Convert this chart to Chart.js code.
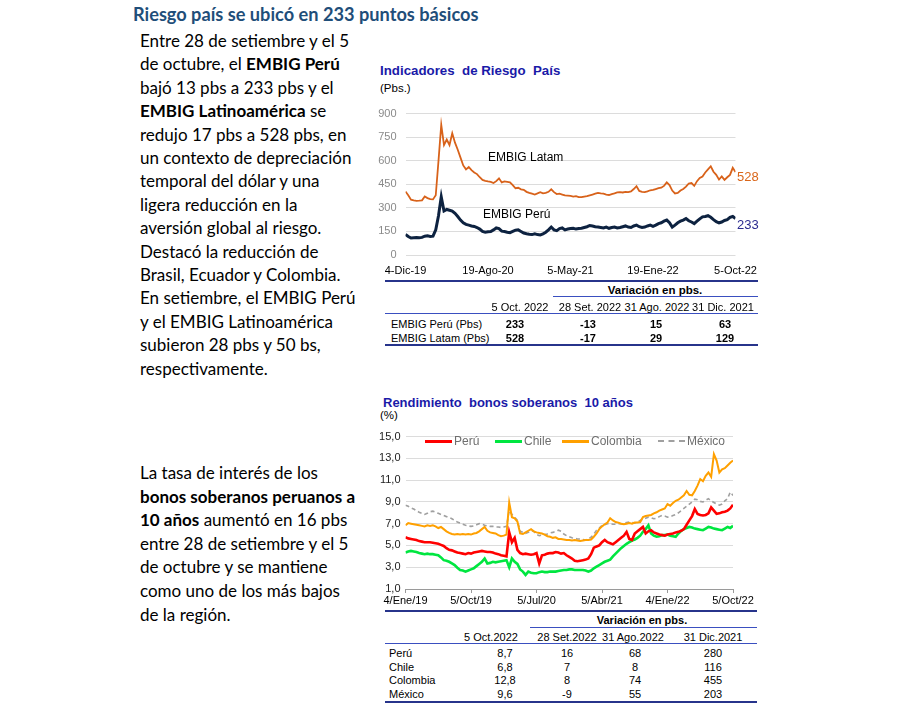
<!DOCTYPE html>
<html>
<head>
<meta charset="utf-8">
<script src="https://cdn.jsdelivr.net/npm/chart.js@4.4.0/dist/chart.umd.min.js"></script>
<style>
  body { margin:0; width:900px; height:712px; background:#fff; position:relative; overflow:hidden;
         font-family:"Liberation Sans", Arial, sans-serif; }
  .abs { position:absolute; white-space:pre; line-height:1.15; }
  #titulo { position:absolute; left:133px; top:3px; font:bold 18.2px Lato; color:#1f4e79; white-space:pre; }
  .parr { position:absolute; left:140px; font:17px Lato; color:#000; white-space:pre; }
  .parr b { font-weight:bold; }
  .linea { position:absolute; }
  canvas { position:absolute; }
</style>
</head>
<body>
<div id="titulo">Riesgo país se ubicó en 233 puntos básicos</div>
<div class="parr" style="top:29px;line-height:23.4px">Entre 28 de setiembre y el 5
de octubre, el <b>EMBIG Perú</b>
bajó 13 pbs a 233 pbs y el
<b>EMBIG Latinoamérica</b> se
redujo 17 pbs a 528 pbs, en
un contexto de depreciación
temporal del dólar y una
ligera reducción en la
aversión global al riesgo.
Destacó la reducción de
Brasil, Ecuador y Colombia.
En setiembre, el EMBIG Perú
y el EMBIG Latinoamérica
subieron 28 pbs y 50 bs,
respectivamente.</div>
<div class="parr" style="top:461px;line-height:23.6px">La tasa de interés de los
<b>bonos soberanos peruanos a</b>
<b>10 años</b> aumentó en 16 pbs
entre 28 de setiembre y el 5
de octubre y se mantiene
como uno de los más bajos
de la región.</div>

<canvas id="riesgoChart" width="396" height="182" style="left:370px;top:98px"></canvas>
<canvas id="bonosChart" width="393" height="184" style="left:370px;top:425px"></canvas>

<script>
// Indicadores de riesgo país (pbs), 4-Dic-19 a 5-Oct-22
const etiquetasRiesgo = ["4-Dic-19", "19-Ago-20", "5-May-21", "19-Ene-22", "5-Oct-22"];
const embigLatam = [
  404,380,352,348,345,346,348,372,362,356, 354,380,600,829,700,735,700,775,715,670,
  620,570,545,560,540,525,515,495,478,472, 468,465,458,470,488,462,468,465,462,445,
  425,428,418,415,402,395,390,385,392,400, 392,395,402,418,400,388,390,385,380,378,
  376,372,375,368,368,372,375,380,385,390, 395,392,390,384,382,388,392,398,400,398,
  402,400,405,420,438,408,402,400,405,412, 415,420,425,428,440,462,445,410,392,395,
  410,420,435,455,458,440,470,490,500,525, 545,565,530,510,480,500,478,495,510,555,
  528
];
const embigPeru = [
  131,118,108,110,112,110,112,120,122,118, 120,160,250,370,280,290,285,280,265,245,
  222,205,195,190,185,182,175,165,150,145, 148,150,160,172,168,152,150,145,142,150,
  158,160,150,140,135,132,130,135,130,128, 135,145,160,178,160,155,168,172,160,165,
  168,170,165,168,170,175,180,188,185,180, 178,175,172,178,170,175,178,172,175,180,
  185,178,175,185,190,180,175,178,185,190, 182,190,200,205,215,222,205,178,190,205,
  215,222,232,218,210,200,215,230,243,245, 250,240,225,212,205,210,220,225,240,245,
  233
];

// Rendimiento bonos soberanos 10 años (%), 4/Ene/19 a 5/Oct/22
const etiquetasBonos = ["4/Ene/19", "5/Oct/19", "5/Jul/20", "5/Abr/21", "4/Ene/22", "5/Oct/22"];
const bonoPeru = [
  5.75,5.65,5.6,5.55,5.5,5.4,5.35,5.3,5.3,5.3, 5.25,5.2,5.15,5.05,4.95,4.75,4.6,4.55,4.45,4.35,
  4.3,4.25,4.2,4.3,4.25,4.35,4.4,4.45,4.5,4.45, 4.4,4.4,4.35,4.25,4.2,4.1,4.05,4.0,6.2,5.3,
  5.7,4.6,4.3,4.2,4.25,4.2,4.15,4.2,4.3,3.35, 4.1,4.15,4.25,4.3,4.3,4.4,4.35,4.25,4.3,4.1,
  3.95,3.8,3.6,3.55,3.6,3.65,3.7,3.8,4.2,4.8, 4.9,5.0,5.3,5.5,5.3,5.2,5.1,5.3,5.5,5.7,
  5.9,6.25,5.6,5.5,6.1,6.3,6.5,6.7,6.1,6.3, 6.4,6.2,6.1,6.0,5.95,5.9,6.0,6.05,6.1,6.2,
  6.25,6.35,6.5,6.9,7.3,7.7,8.35,7.9,7.8,7.75, 7.8,7.95,8.5,8.2,7.9,7.95,8.05,8.1,8.2,8.4,
  8.75
];
const bonoChile = [
  4.35,4.45,4.5,4.45,4.4,4.3,4.25,4.2,4.25,4.2, 4.2,4.15,4.1,3.9,3.65,3.6,3.5,3.35,3.2,2.95,
  2.75,2.7,2.6,2.7,2.8,2.9,3.1,3.3,3.5,3.8, 3.35,3.4,3.5,3.45,3.5,3.55,3.6,3.65,3.0,3.8,
  3.5,3.3,2.8,2.6,2.3,2.6,2.5,2.45,2.45,2.55, 2.6,2.55,2.55,2.6,2.6,2.6,2.65,2.7,2.75,2.75,
  2.8,2.8,2.75,2.75,2.75,2.75,2.7,2.6,2.7,2.9, 3.05,3.2,3.35,3.5,3.6,3.7,4.0,4.25,4.5,4.75,
  4.95,5.15,5.3,5.45,5.55,5.7,5.9,6.25,6.5,6.85, 6.1,5.9,5.8,5.85,5.95,5.95,6.0,5.9,5.85,5.8,
  6.1,6.35,6.5,6.6,6.7,6.65,6.55,6.5,6.45,6.4, 6.55,6.7,6.65,6.55,6.5,6.45,6.4,6.55,6.7,6.6,
  6.8
];
const bonoColombia = [
  6.85,7.05,7.0,6.95,6.9,6.85,6.8,6.75,6.85,6.8, 6.85,6.75,6.6,6.7,6.5,6.3,6.15,6.05,6.0,6.05,
  6.0,6.05,6.0,6.05,6.0,6.1,6.15,6.3,6.5,6.7, 6.35,6.2,6.15,6.1,5.95,5.85,5.9,6.0,8.95,7.6,
  7.5,7.2,6.1,6.05,6.2,6.35,6.5,6.3,6.2,6.15, 6.1,6.0,5.85,5.8,5.7,5.75,5.6,5.6,5.55,5.5,
  5.5,5.45,5.5,5.45,5.4,5.45,5.5,5.5,5.55,5.8, 6.1,6.5,6.75,6.95,7.1,7.5,7.3,7.15,7.1,7.0,
  6.95,7.0,7.05,7.0,7.1,7.1,7.15,7.6,7.7,7.75, 7.8,7.95,8.05,8.2,8.3,8.4,8.8,8.65,8.9,9.1,
  9.2,9.4,9.6,10.0,9.65,9.6,10.0,10.5,11.1,10.9, 11.4,11.7,11.3,13.4,12.8,11.7,12.0,12.1,12.35,12.6,
  12.8
];
const bonoMexico = [
  8.7,8.6,8.45,8.35,8.2,8.05,7.95,7.85,7.95,8.1, 8.15,8.05,7.95,7.85,7.75,7.65,7.6,7.45,7.3,7.15,
  7.05,6.95,6.85,6.8,6.75,6.8,6.9,7.0,6.95,6.85, 6.8,6.75,6.75,6.7,6.7,6.65,6.7,6.75,8.2,7.85,
  7.6,7.3,6.3,6.2,6.1,6.2,6.35,6.3,6.0,5.9, 5.95,6.0,6.05,6.15,6.2,6.3,6.4,6.3,6.05,5.9,
  5.8,5.7,5.65,5.6,5.6,5.55,5.5,5.6,5.75,6.05, 6.4,6.6,6.85,6.9,7.0,7.0,6.95,6.95,7.0,7.0,
  7.05,7.1,7.15,7.1,7.05,7.15,7.3,7.45,7.5,7.6, 7.55,7.45,7.5,7.65,7.75,7.7,7.6,7.65,7.75,7.85,
  8.0,8.2,8.4,8.6,8.8,9.0,9.25,9.2,9.05,9.0, 9.15,9.3,9.1,8.95,8.8,8.7,8.8,9.1,9.3,9.9,
  9.6
];

// tablas
const colTabla1 = ["5 Oct. 2022", "28 Set. 2022", "31 Ago. 2022", "31 Dic. 2021"];
const filasTabla1 = ["EMBIG Perú (Pbs)", "EMBIG Latam (Pbs)"];
const nivel1 = [233, 528];
const var28Set1 = [-13, -17];
const var31Ago1 = [15, 29];
const var31Dic1 = [63, 129];

const colTabla2 = ["5 Oct.2022", "28 Set.2022", "31 Ago.2022", "31 Dic.2021"];
const filasTabla2 = ["Perú", "Chile", "Colombia", "México"];
const nivel2 = [8.7, 6.8, 12.8, 9.6];
const var28Set2 = [16, 7, 8, -9];
const var31Ago2 = [68, 8, 74, 55];
const var31Dic2 = [280, 116, 455, 203];

const fuenteGraf = "'Liberation Sans', Arial, sans-serif";

function texto(s, x, y, css, anchor) {
  const d = document.createElement("div");
  d.className = "abs";
  d.textContent = s;
  d.style.cssText += css;
  d.style.left = x + "px";
  d.style.top = y + "px";
  const tx = anchor === "c" ? "-50%" : anchor === "r" ? "-100%" : "0";
  d.style.transform = "translate(" + tx + ",-50%)";
  document.body.appendChild(d);
  return d;
}
function linea(x, y, w, h, color) {
  const d = document.createElement("div");
  d.className = "linea";
  d.style.left = x + "px"; d.style.top = y + "px";
  d.style.width = w + "px"; d.style.height = h + "px";
  d.style.background = color;
  document.body.appendChild(d);
}
const coma = (v) => String(v).replace(".", ",");
const aPuntos = (arr) => arr.map((v, i) => ({ x: i, y: v }));

// ---------- grafico 1 ----------
texto("Indicadores  de Riesgo  País", 380, 70, "font:bold 13.3px " + fuenteGraf + ";color:#1a1aa8;");
texto("(Pbs.)", 380, 88, "font:11.5px " + fuenteGraf + ";color:#000;");
texto("EMBIG Latam", 488, 157, "font:12px " + fuenteGraf + ";color:#000;");
texto("EMBIG Perú", 483, 214, "font:12px " + fuenteGraf + ";color:#000;");
texto(String(embigLatam[embigLatam.length - 1]), 737, 176, "font:13px " + fuenteGraf + ";color:#d9661a;");
texto(String(embigPeru[embigPeru.length - 1]), 737, 224, "font:13px " + fuenteGraf + ";color:#2b2b8f;");

new Chart(document.querySelector("#riesgoChart"), {
  type: "line",
  data: {
    datasets: [
      { label: "EMBIG Latam", data: aPuntos(embigLatam), borderColor: "#d8621a", borderWidth: 1.8, pointRadius: 0, tension: 0 },
      { label: "EMBIG Perú", data: aPuntos(embigPeru), borderColor: "#0d2240", borderWidth: 3, pointRadius: 0, tension: 0 },
    ],
  },
  options: {
    responsive: false,
    animation: false,
    devicePixelRatio: 1,
    layout: { padding: { top: 8.7, right: 30.5, left: 0, bottom: 0 } },
    plugins: { legend: { display: false }, tooltip: { enabled: false } },
    scales: {
      x: {
        type: "linear", min: 0, max: embigLatam.length - 1,
        grid: { display: false }, border: { display: false },
        ticks: {
          stepSize: 30, autoSkip: false, maxRotation: 0, padding: 1,
          color: "#000", font: { family: fuenteGraf, size: 11 },
          callback: (v) => etiquetasRiesgo[v / 30],
        },
        afterFit: (s) => { s.height = 25; },
      },
      y: {
        min: 0, max: 900,
        grid: { color: "#dcdcdc", lineWidth: 1, drawTicks: false }, border: { display: false },
        ticks: { stepSize: 150, padding: 9, color: "#8a8a8a", font: { family: fuenteGraf, size: 11 } },
        afterFit: (s) => { s.width = 35.5; },
      },
    },
  },
});

// tabla 1
linea(385, 279.5, 373, 2.5, "#27348b");
texto("Variación en pbs.", 655, 290, "font:bold 11.5px " + fuenteGraf + ";color:#000;", "c");
linea(553, 295.5, 205, 1.5, "#3a4fc0");
const cabX1 = [520, 590, 657, 723];
const valX1 = [515, 588, 656, 725];
colTabla1.forEach((c, i) => texto(c, cabX1[i], 306.7, "font:11px " + fuenteGraf + ";color:#000;", "c"));
linea(385, 313, 373, 1, "#3a4fc0");
filasTabla1.forEach((f, r) => {
  const y = 324 + r * 13.5;
  texto(f, 391, y, "font:11px " + fuenteGraf + ";color:#000;");
  [nivel1[r], var28Set1[r], var31Ago1[r], var31Dic1[r]].forEach((v, i) =>
    texto(String(v), valX1[i], y, "font:bold 11px " + fuenteGraf + ";color:#000;", "c"));
});
linea(385, 343.5, 373, 2.5, "#27348b");

// ---------- grafico 2 ----------
texto("Rendimiento  bonos soberanos  10 años", 383, 402, "font:bold 13px " + fuenteGraf + ";color:#1a1aa8;");
texto("(%)", 380, 415, "font:11.5px " + fuenteGraf + ";color:#000;");

const seriesBonos = [
  { label: "Perú", data: aPuntos(bonoPeru), borderColor: "#ff0000", borderWidth: 2.6, pointRadius: 0, tension: 0 },
  { label: "Chile", data: aPuntos(bonoChile), borderColor: "#00e640", borderWidth: 2.6, pointRadius: 0, tension: 0 },
  { label: "Colombia", data: aPuntos(bonoColombia), borderColor: "#ffa000", borderWidth: 2, pointRadius: 0, tension: 0 },
  { label: "México", data: aPuntos(bonoMexico), borderColor: "#a0a0a0", borderWidth: 1.6, borderDash: [4, 3], pointRadius: 0, tension: 0 },
];

// leyenda dentro del area del grafico
const leyX = [425, 495, 562, 658];
seriesBonos.forEach((s, i) => {
  const d = document.createElement("div");
  d.className = "linea";
  d.style.left = leyX[i] + "px"; d.style.top = "439.5px"; d.style.width = "27px"; d.style.height = "0";
  d.style.borderTop = (s.borderDash ? "2px dashed " : "3px solid ") + s.borderColor;
  document.body.appendChild(d);
  texto(s.label, leyX[i] + 29, 441, "font:12px " + fuenteGraf + ";color:#6e6e6e;");
});

new Chart(document.querySelector("#bonosChart"), {
  type: "line",
  data: { datasets: seriesBonos },
  options: {
    responsive: false,
    animation: false,
    devicePixelRatio: 1,
    layout: { padding: { top: 11, right: 30, left: 0, bottom: 0 } },
    plugins: { legend: { display: false }, tooltip: { enabled: false } },
    scales: {
      x: {
        type: "linear", min: 0, max: bonoPeru.length - 1,
        grid: { drawOnChartArea: false, drawTicks: true, tickLength: 4, color: "#9a9a9a" },
        border: { display: true, color: "#9a9a9a" },
        ticks: {
          stepSize: 24, autoSkip: false, maxRotation: 0, padding: 1,
          color: "#000", font: { family: fuenteGraf, size: 11 },
          callback: (v) => etiquetasBonos[v / 24],
        },
        afterFit: (s) => { s.height = 20; },
      },
      y: {
        min: 1, max: 15,
        grid: { color: "#dcdcdc", lineWidth: 1, drawTicks: false }, border: { display: false },
        ticks: { stepSize: 2, padding: 5, color: "#222", font: { family: fuenteGraf, size: 11 },
                 callback: (v) => coma(v.toFixed(1)) },
        afterFit: (s) => { s.width = 35.5; },
      },
    },
  },
});

// tabla 2
linea(385, 610, 372, 2, "#27348b");
texto("Variación en pbs.", 642, 620, "font:bold 11px " + fuenteGraf + ";color:#000;", "c");
linea(530, 626.5, 227, 1.5, "#3a4fc0");
const cabX2 = [491, 567, 633, 713];
const valX2 = [505, 567, 635, 713];
colTabla2.forEach((c, i) => texto(c, cabX2[i], 637, "font:11px " + fuenteGraf + ";color:#000;", "c"));
linea(385, 643, 372, 1, "#3a4fc0");
filasTabla2.forEach((f, r) => {
  const y = 653 + r * 13.7;
  texto(f, 389, y, "font:11px " + fuenteGraf + ";color:#000;");
  [coma(nivel2[r]), var28Set2[r], var31Ago2[r], var31Dic2[r]].forEach((v, i) =>
    texto(String(v), valX2[i], y, "font:11px " + fuenteGraf + ";color:#000;", "c"));
});
linea(385, 701, 372, 2, "#27348b");
</script>
</body>
</html>
